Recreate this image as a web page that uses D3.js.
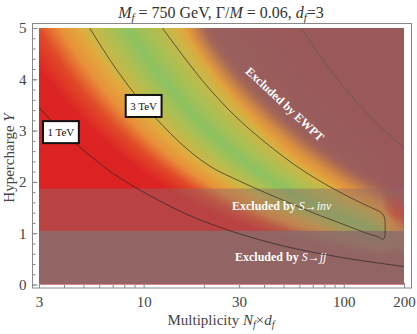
<!DOCTYPE html>
<html><head><meta charset="utf-8">
<script src="https://cdn.jsdelivr.net/npm/d3@7"></script>
<style>
body{margin:0;background:#fff;}
text{font-family:"Liberation Serif","Times New Roman",serif;}
</style></head><body>
<svg id="chart" width="417" height="334"></svg>
<script>
// ticks
const xTicks = [3, 10, 30, 100, 200];
const xMinor = [4, 5, 6, 7, 8, 9, 20, 40, 50, 60, 70, 80, 90];
const yTicks = [0, 1, 2, 3, 4, 5];
const yMinor = d3.range(0, 5.01, 0.2);

// colour field: mass scale across the diagonal s = log10(N) + 1.83 log10(Y)
const profileS = [1.0, 1.46, 1.62, 1.75, 1.86, 1.95, 2.0, 2.2, 2.42, 2.5, 2.65, 3.07, 3.5];
const profileV = [0.5, 1.0, 1.3, 1.7, 2.2, 2.6, 2.9, 3.5, 2.9, 2.4, 2.2, 1.0, 0.5];
// drop of the scale at large multiplicity
const cutN = [3, 140, 155, 165, 180, 200];
const cutF = [1, 1, 0.95, 0.82, 0.72, 0.68];
const levelV = [0.5, 1.3, 1.7, 2.2, 2.6, 2.9, 3.2, 3.5];
const levelColor = ['#dc2222', '#dc2424', '#e04a28', '#e8903a', '#e2a83e', '#cdb646', '#acbf52', '#8cc262'];

// contours, [N, Y]
const contour1TeV = [[3, 3.45], [4, 2.95], [5, 2.62], [7, 2.17], [10, 1.8], [15, 1.44], [20, 1.23], [30, 0.99], [50, 0.75], [100, 0.52], [200, 0.35]];
const contour3TeV = [[5.37, 5], [7, 4.3], [9, 3.72], [11.7, 3.21], [16.5, 2.64], [22, 2.28], [30, 2.02], [40, 1.8], [50, 1.64], [70, 1.4], [100, 1.17], [130, 1.0], [150, 0.92], [157, 0.88], [160, 0.92], [161, 1.1], [160, 1.3], [156, 1.38], [153, 1.41], [130, 1.54], [100, 1.76], [70, 2.1], [50, 2.49], [30, 3.21], [20, 3.94], [12.4, 5]];
const contourFar = [[61, 5], [80, 4.35], [100, 3.85], [130, 3.35], [160, 3.0], [200, 2.67]];
const ewptEdge = [[18.6, 6], [18.6, 5], [22, 4.5], [31.5, 3.75], [52, 2.95], [83, 2.35], [125, 1.9], [165, 1.68], [205, 1.55], [260, 1.42], [260, 6]];
const invBand = [1.05, 1.87];
const jjBand = [0, 1.05];
const contourLabels = [{text: '1 TeV', n: 3.86, y: 2.97}, {text: '3 TeV', n: 10, y: 3.48}];

const svg = d3.select('#chart');
const x = d3.scaleLog().domain([3, 200]).range([39, 404]);
const y = d3.scaleLinear().domain([0, 5]).range([284.5, 28]);
const x0 = x.range()[0], x1 = x.range()[1], y0 = y.range()[1], y1 = y.range()[0];

const sToV = d3.scaleLinear().domain(profileS).range(profileV).clamp(true);
const cut = d3.scaleLinear().domain(cutN).range(cutF).clamp(true);
const vToColor = d3.scaleLinear().domain(levelV).range(levelColor).clamp(true);

// raster of the field
const W = Math.round(x1 - x0), H = Math.round(y1 - y0);
const canvas = document.createElement('canvas');
canvas.width = W; canvas.height = H;
const ctx = canvas.getContext('2d');
const img = ctx.createImageData(W, H);
for (let j = 0; j < H; j++) {
  const Y = Math.max(y.invert(y0 + j + 0.5), 0.02);
  for (let i = 0; i < W; i++) {
    const N = x.invert(x0 + i + 0.5);
    const s = Math.log10(N) + 1.83 * Math.log10(Y);
    const c = d3.rgb(vToColor(sToV(s) * cut(N)));
    const k = 4 * (j * W + i);
    img.data[k] = c.r; img.data[k + 1] = c.g; img.data[k + 2] = c.b; img.data[k + 3] = 255;
  }
}
ctx.putImageData(img, 0, 0);

const defs = svg.append('defs');
defs.append('clipPath').attr('id', 'plotclip').append('rect')
  .attr('x', x0).attr('y', y0).attr('width', x1 - x0).attr('height', y1 - y0);
defs.append('filter').attr('id', 'soft').attr('x', '-20%').attr('y', '-20%').attr('width', '140%').attr('height', '140%')
  .append('feGaussianBlur').attr('stdDeviation', 7);

const plot = svg.append('g').attr('clip-path', 'url(#plotclip)');
plot.append('image').attr('x', x0).attr('y', y0).attr('width', W).attr('height', H)
  .attr('preserveAspectRatio', 'none').attr('href', canvas.toDataURL());

const line = d3.line().x(d => x(d[0])).y(d => y(d[1])).curve(d3.curveCatmullRom);

// EWPT exclusion with soft edge
plot.append('path')
  .attr('d', line(ewptEdge) + 'Z')
  .attr('fill', '#965c5e').attr('fill-opacity', 0.95).attr('filter', 'url(#soft)');

// bands
plot.append('rect').attr('x', x0).attr('width', x1 - x0)
  .attr('y', y(invBand[1])).attr('height', y(invBand[0]) - y(invBand[1]))
  .attr('fill', '#8f6b6b').attr('fill-opacity', 0.45);
plot.append('rect').attr('x', x0).attr('width', x1 - x0)
  .attr('y', y(jjBand[1])).attr('height', y(jjBand[0]) - y(jjBand[1]))
  .attr('fill', '#8a6b6b').attr('fill-opacity', 0.9);

// contours
plot.append('path').attr('d', line(contour1TeV)).attr('fill', 'none').attr('stroke', '#222').attr('stroke-opacity', 0.65);
plot.append('path').attr('d', line(contour3TeV)).attr('fill', 'none').attr('stroke', '#222').attr('stroke-opacity', 0.65);
plot.append('path').attr('d', line(contourFar)).attr('fill', 'none').attr('stroke', '#665858').attr('stroke-opacity', 0.85);

// contour labels
contourLabels.forEach(function(d) {
  const g = svg.append('g').attr('transform', 'translate(' + x(d.n) + ',' + y(d.y) + ')');
  const r = g.append('rect');
  const t = g.append('text').attr('text-anchor', 'middle').attr('dy', '0.35em')
    .attr('font-size', 11).attr('fill', '#111').text(d.text);
  const w = t.node().getComputedTextLength() + 9;
  r.attr('x', -w / 2).attr('y', -11).attr('width', w).attr('height', 22)
    .attr('fill', '#fff').attr('stroke', '#111').attr('stroke-width', 2);
});

// region labels
svg.append('text').attr('transform', 'translate(285,104) rotate(43)')
  .attr('text-anchor', 'middle').attr('dy', '0.35em').attr('font-size', 12).attr('font-weight', 'bold')
  .attr('fill', '#fff').text('Excluded by EWPT');
const inv = svg.append('text').attr('x', 232).attr('y', 210).attr('font-size', 12).attr('fill', '#fff');
inv.append('tspan').attr('font-weight', 'bold').text('Excluded by ');
inv.append('tspan').attr('font-style', 'italic').text('S\u2192inv');
const jj = svg.append('text').attr('x', 235).attr('y', 261).attr('font-size', 12).attr('fill', '#fff');
jj.append('tspan').attr('font-weight', 'bold').text('Excluded by ');
jj.append('tspan').attr('font-style', 'italic').text('S\u2192jj');

// frame and axes
svg.append('rect').attr('x', 32.5).attr('y', 23.5).attr('width', 379).attr('height', 264.5)
  .attr('fill', 'none').attr('stroke', '#888');
const xa = svg.append('g').attr('transform', 'translate(0,288)')
  .call(d3.axisBottom(x).tickValues(xTicks).tickFormat(d3.format('d')).tickSizeInner(-5).tickSizeOuter(0).tickPadding(8));
const xm = svg.append('g').attr('transform', 'translate(0,288)')
  .call(d3.axisBottom(x).tickValues(xMinor).tickFormat('').tickSizeInner(-3).tickSizeOuter(0));
const ya = svg.append('g').attr('transform', 'translate(32.5,0)')
  .call(d3.axisLeft(y).tickValues(yTicks).tickFormat(d3.format('d')).tickSizeInner(-5).tickSizeOuter(0).tickPadding(6));
const ym = svg.append('g').attr('transform', 'translate(32.5,0)')
  .call(d3.axisLeft(y).tickValues(yMinor).tickFormat('').tickSizeInner(-3).tickSizeOuter(0));
[xa, xm, ya, ym].forEach(function(a) {
  a.select('.domain').remove();
  a.selectAll('line').attr('stroke', '#888');
  a.selectAll('text').attr('font-size', 15).attr('fill', '#444')
    .attr('font-family', '"Liberation Serif", serif');
});

// titles
const title = svg.append('text').attr('x', 221).attr('y', 18).attr('text-anchor', 'middle')
  .attr('font-size', 16).attr('fill', '#333');
title.append('tspan').attr('font-style', 'italic').text('M');
title.append('tspan').attr('font-style', 'italic').attr('font-size', 11).attr('dy', 3).text('f');
title.append('tspan').attr('dy', -3).text(' = 750 GeV, \u0393/');
title.append('tspan').attr('font-style', 'italic').text('M');
title.append('tspan').text(' = 0.06, ');
title.append('tspan').attr('font-style', 'italic').text('d');
title.append('tspan').attr('font-style', 'italic').attr('font-size', 11).attr('dy', 3).text('f');
title.append('tspan').attr('dy', -3).text('=3');

const xl = svg.append('text').attr('x', 221).attr('y', 325).attr('text-anchor', 'middle')
  .attr('font-size', 15).attr('fill', '#444');
xl.append('tspan').text('Multiplicity ');
xl.append('tspan').attr('font-style', 'italic').text('N');
xl.append('tspan').attr('font-style', 'italic').attr('font-size', 10).attr('dy', 3).text('f');
xl.append('tspan').attr('dy', -3).text('\u00d7');
xl.append('tspan').attr('font-style', 'italic').text('d');
xl.append('tspan').attr('font-style', 'italic').attr('font-size', 10).attr('dy', 3).text('f');

const yl = svg.append('text').attr('transform', 'translate(14,158) rotate(-90)').attr('text-anchor', 'middle')
  .attr('font-size', 15).attr('fill', '#444');
yl.append('tspan').text('Hypercharge ');
yl.append('tspan').attr('font-style', 'italic').text('Y');
</script>
</body></html>
